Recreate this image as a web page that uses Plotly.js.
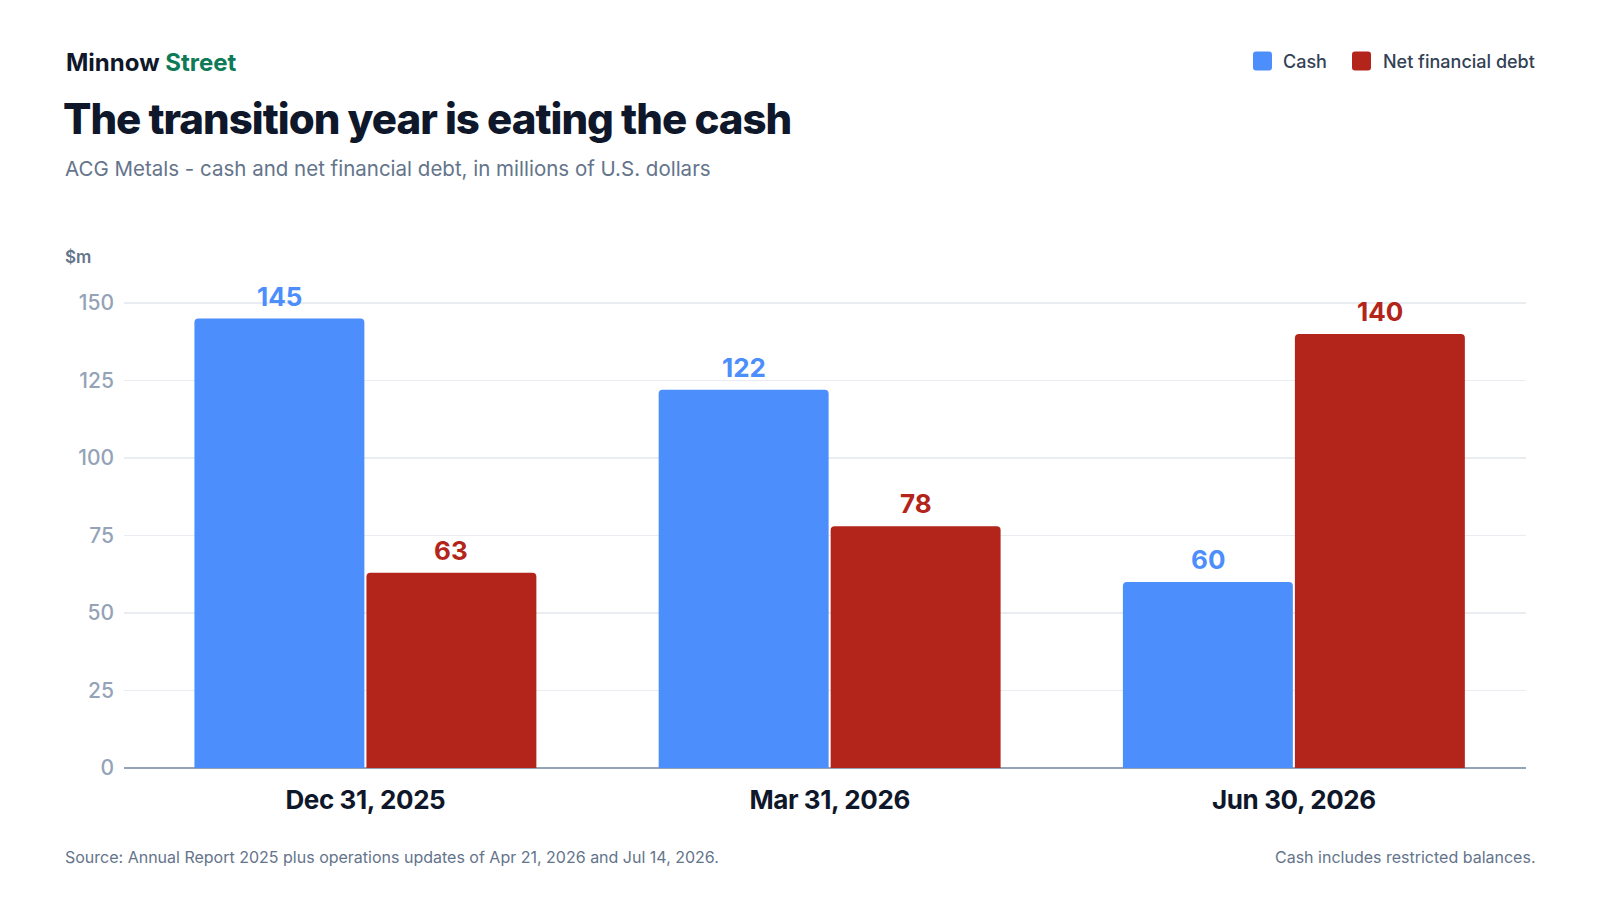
<!DOCTYPE html>
<html>
<head>
<meta charset="utf-8">
<script src="https://cdn.plot.ly/plotly-3.0.1.min.js"></script>
<style>
  html, body { margin: 0; padding: 0; background: #ffffff; }
  #chart { width: 1600px; height: 900px; }
  /* tighter tracking like the original headline */
  #chart .gtitle { letter-spacing: -1px; }
  #chart .xtick text { letter-spacing: -0.4px; }
</style>
</head>
<body>
<div id="chart"></div>
<script>
// data
const categories = ['Dec 31, 2025', 'Mar 31, 2026', 'Jun 30, 2026'];
const cashValues = [145, 122, 60];
const debtValues = [63, 78, 140];
const seriesNames = ['Cash', 'Net financial debt'];
const yTicks = [0, 25, 50, 75, 100, 125, 150];

const BLUE = '#4b8efc';
const RED = '#b3241a';
const FONT = 'Inter, "Noto Sans", sans-serif';

// plot area in pixels (page is 1600x900)
const M = { l: 124, r: 74, t: 272, b: 132 };
const W = 1600, H = 900;
const plotW = W - M.l - M.r, plotH = H - M.t - M.b;
const px2x = px => (px - M.l) / plotW;
const px2y = py => (H - M.b - py) / plotH;

const traces = [
  {
    type: 'bar', name: seriesNames[0], x: categories, y: cashValues,
    marker: { color: BLUE, cornerradius: 4 },
    hoverinfo: 'skip', showlegend: false
  },
  {
    type: 'bar', name: seriesNames[1], x: categories, y: debtValues,
    marker: { color: RED, cornerradius: 4 },
    hoverinfo: 'skip', showlegend: false
  }
];

const annotations = [];

// value labels above bars
categories.forEach((c, i) => {
  annotations.push({ x: c, y: cashValues[i], xref: 'x', yref: 'y', text: String(cashValues[i]),
    showarrow: false, xshift: -86, yshift: 5, yanchor: 'bottom',
    font: { family: FONT, size: 26, weight: 700, color: BLUE } });
  annotations.push({ x: c, y: debtValues[i], xref: 'x', yref: 'y', text: String(debtValues[i]),
    showarrow: false, xshift: 86, yshift: 5, yanchor: 'bottom',
    font: { family: FONT, size: 26, weight: 700, color: RED } });
});

// header / footer texts
const txt = (text, px, py, size, color, weight, xanchor) => ({
  xref: 'paper', yref: 'paper', x: px2x(px), y: px2y(py), text: text,
  showarrow: false, xanchor: xanchor || 'left', yanchor: 'middle',
  font: { family: FONT, size: size, color: color, weight: weight || 400 }
});

annotations.push(txt('Minnow <span style="color:#0e7a57">Street</span>', 64, 62, 24, '#0f172a', 700));
annotations.push(txt('ACG Metals - cash and net financial debt, in millions of U.S. dollars', 63, 168, 20.5, '#64748b', 400));
annotations.push(txt('$m', 63, 257, 17, '#64748b', 600));
annotations.push(txt('Source: Annual Report 2025 plus operations updates of Apr 21, 2026 and Jul 14, 2026.', 63, 857, 16, '#64748b', 400));
annotations.push(txt('Cash includes restricted balances.', 1537, 857, 16, '#64748b', 400, 'right'));

// legend
annotations.push(txt(seriesNames[0], 1281, 61, 18, '#334155', 500));
annotations.push(txt(seriesNames[1], 1381, 61, 18, '#334155', 500));

// rounded legend swatch, 19px square, drawn in pixels around an anchor
const square = (px, py, color) => ({
  type: 'path', xref: 'paper', yref: 'paper',
  xsizemode: 'pixel', ysizemode: 'pixel',
  xanchor: px2x(px), yanchor: px2y(py),
  path: 'M3,-9.5 H16 Q19,-9.5 19,-6.5 V6.5 Q19,9.5 16,9.5 H3 Q0,9.5 0,6.5 V-6.5 Q0,-9.5 3,-9.5 Z',
  fillcolor: color, line: { width: 0 }
});

const shapes = [square(1253, 61, BLUE), square(1352, 61, RED)];

const layout = {
  width: W, height: H,
  margin: M,
  paper_bgcolor: '#ffffff', plot_bgcolor: '#ffffff',
  barmode: 'group', bargap: 0.259, bargroupgap: 0.012,
  font: { family: FONT },
  showlegend: false,
  title: {
    text: 'The transition year is eating the cash',
    xref: 'container', yref: 'container',
    x: 63 / W, xanchor: 'left',
    y: 1 - 119 / H, yanchor: 'middle',
    font: { family: FONT, size: 42, weight: 800, color: '#0f172a' }
  },
  xaxis: {
    type: 'category', range: [-0.52, 2.5], fixedrange: true,
    showgrid: false, showline: false, ticks: '',
    ticklabelstandoff: 14,
    tickfont: { family: FONT, size: 26, weight: 700, color: '#0f172a' }
  },
  yaxis: {
    range: [0, 160], tickvals: yTicks, fixedrange: true,
    showgrid: true, gridcolor: '#e9ecf0', gridwidth: 1.5,
    zeroline: true, zerolinecolor: '#94a3b8', zerolinewidth: 2,
    showline: false, ticks: '', ticklabelstandoff: 9,
    tickfont: { family: FONT, size: 21, weight: 500, color: '#94a3b8' }
  },
  annotations: annotations,
  shapes: shapes
};

Plotly.newPlot('chart', traces, layout, { displayModeBar: false, staticPlot: true });
</script>
</body>
</html>
